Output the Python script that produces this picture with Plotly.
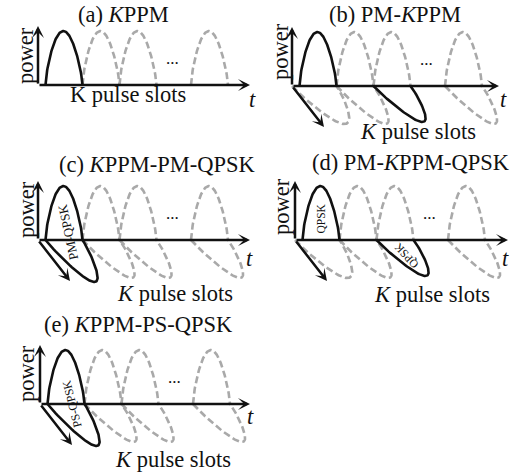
import numpy as np
import plotly.graph_objects as go

# ---------------- content (text / structure of the schematic) ----------------
PANEL_TITLES = [
    "(a) <i>K</i>PPM",
    "(b) PM-<i>K</i>PPM",
    "(c) <i>K</i>PPM-PM-QPSK",
    "(d) PM-<i>K</i>PPM-QPSK",
    "(e) <i>K</i>PPM-PS-QPSK",
]
SLOT_CAPTIONS = [
    "K pulse slots",
    "<i>K</i> pulse slots",
    "<i>K</i> pulse slots",
    "<i>K</i> pulse slots",
    "<i>K</i> pulse slots",
]
Y_LABEL = "power"
X_LABEL = "<i>t</i>"
ELLIPSIS = "..."
SHOWN_SLOTS = [1, 2, 3, 4]                 # slot 4 stands for the K-th slot
UPPER_SOLID_SLOT = [1, 1, 1, 1, 1]          # occupied slot, polarisation X
LOWER_SOLID_SLOT = [None, 3, 1, 3, 1]       # occupied slot, polarisation Y
HAS_POL_AXIS = [False, True, True, True, True]
JOINED_LOOP = [False, False, True, False, True]   # single tilted (QPSK) pulse
INNER_LABELS = [
    [],
    [],
    [("PM-QPSK", "loop")],
    [("QPSK", "upper"), ("QPSK", "lower")],
    [("PS-QPSK", "loop")],
]

# ---------------- layout geometry (pixels of the 518x474 canvas) ----------------
W, H = 518, 474
ORIGINS = [(38, 85), (292, 86), (38, 240), (295, 240), (40, 404)]
T_TIP = [212, 207, 212, 213, 210]
SLOT_START = {1: 7.5, 2: 44.5, 3: 81.5, 4: 153}
SLOT_W = 37
UP_H = 59
PULSE_H = 54
DIAG = (32, 41)
V_DASH = (31, 38)
V_SOLID = (31, 36)
V_LOOP = (31, 42)

TITLE_POS = [(123, 14), (395, 14), (157, 164), (411, 162), (138, 324)]
CAPTION_POS = [(128, 94), (418, 131), (175, 293), (432, 294), (173, 459)]
T_POS = [(252.5, 99), (503, 99), (249, 258), (505.5, 258), (250, 416)]
POWER_POS = [(25, 56), (280, 52), (26, 210), (281, 207), (26, 374)]
INNER_POS = {
    (2, 0): (67.5, 232, -102, 13),
    (3, 0): (320.5, 219, -90, 11.5),
    (3, 1): (406.5, 256, -132, 11.5),
    (4, 0): (72, 404, -104, 12),
}

BLACK = "#111111"
GRAY = "#a9a9a9"
FONT = "Liberation Serif"
FS = 22.5


def lobe(x0, y0, w, vx, vy, n=90):
    s = np.linspace(0, 1, n)
    p = np.sin(np.pi * s ** 0.95) ** 0.72
    return x0 + s * w + p * vx, y0 + p * vy


fig = go.Figure()
dash_traces, solid_traces = [], []

for i, (ox, oy) in enumerate(ORIGINS):
    for k in SHOWN_SLOTS:
        xs = ox + SLOT_START[k]
        # upper (vertical-plane) pulses
        x, y = lobe(xs, oy, SLOT_W, 0, -PULSE_H)
        if k == UPPER_SOLID_SLOT[i]:
            if JOINED_LOOP[i]:
                xl, yl = lobe(xs, oy, SLOT_W, V_LOOP[0], V_LOOP[1])
                x = np.concatenate([x, xl[::-1]])
                y = np.concatenate([y, yl[::-1]])
            solid_traces.append((x, y))
        else:
            dash_traces.append((x, y))
        # lower (oblique-plane) pulses
        if HAS_POL_AXIS[i] and not (JOINED_LOOP[i] and k == 1):
            if k == 1:
                xs0, w0 = ox, SLOT_START[2]
            else:
                xs0, w0 = xs, SLOT_W
            if k == LOWER_SOLID_SLOT[i]:
                x, y = lobe(xs0, oy, w0, V_SOLID[0], V_SOLID[1])
                solid_traces.append((x, y))
            else:
                x, y = lobe(xs0, oy, w0, V_DASH[0], V_DASH[1])
                dash_traces.append((x, y))

for x, y in dash_traces:
    fig.add_trace(go.Scatter(x=x, y=y, mode="lines", hoverinfo="skip",
                             line=dict(color=GRAY, width=2.6, dash="7px,3.5px")))
for x, y in solid_traces:
    fig.add_trace(go.Scatter(x=x, y=y, mode="lines", hoverinfo="skip",
                             line=dict(color=BLACK, width=2.6)))

ann = []


def arrow(x0, y0, x1, y1):
    ann.append(dict(x=x1, y=y1, ax=x0, ay=y0, xref="x", yref="y", axref="x", ayref="y",
                    text="", showarrow=True, arrowhead=3, arrowsize=0.8, arrowwidth=2.5,
                    arrowcolor=BLACK, standoff=0, startstandoff=0))


def label(x, y, text, size=FS, angle=0):
    ann.append(dict(x=x, y=y, xref="x", yref="y", text=text, showarrow=False,
                    xanchor="center", yanchor="middle", textangle=angle,
                    font=dict(family=FONT, size=size, color=BLACK)))


for i, (ox, oy) in enumerate(ORIGINS):
    arrow(ox, oy, ox, oy - UP_H)
    arrow(ox, oy, ox + T_TIP[i], oy)
    if HAS_POL_AXIS[i]:
        arrow(ox, oy, ox + DIAG[0], oy + DIAG[1])
    label(*TITLE_POS[i], PANEL_TITLES[i])
    label(*CAPTION_POS[i], SLOT_CAPTIONS[i])
    label(*T_POS[i], X_LABEL)
    label(*POWER_POS[i], Y_LABEL, angle=-90)
    label(ox + 134, oy - 27, ELLIPSIS, size=17)
    for j, (txt, _where) in enumerate(INNER_LABELS[i]):
        px, py, ang, sz = INNER_POS[(i, j)]
        label(px, py, txt, size=sz, angle=ang)

fig.update_layout(
    width=W, height=H, autosize=False,
    margin=dict(l=0, r=0, t=0, b=0, pad=0),
    paper_bgcolor="white", plot_bgcolor="white",
    showlegend=False,
    xaxis=dict(range=[0, W], visible=False, fixedrange=True),
    yaxis=dict(range=[H, 0], visible=False, fixedrange=True),
    annotations=ann,
)
fig.write_html(
    "out.html",
    config={"displayModeBar": False, "staticPlot": True},
    post_script="document.body.style.margin='0px';document.body.style.overflow='hidden';",
)
